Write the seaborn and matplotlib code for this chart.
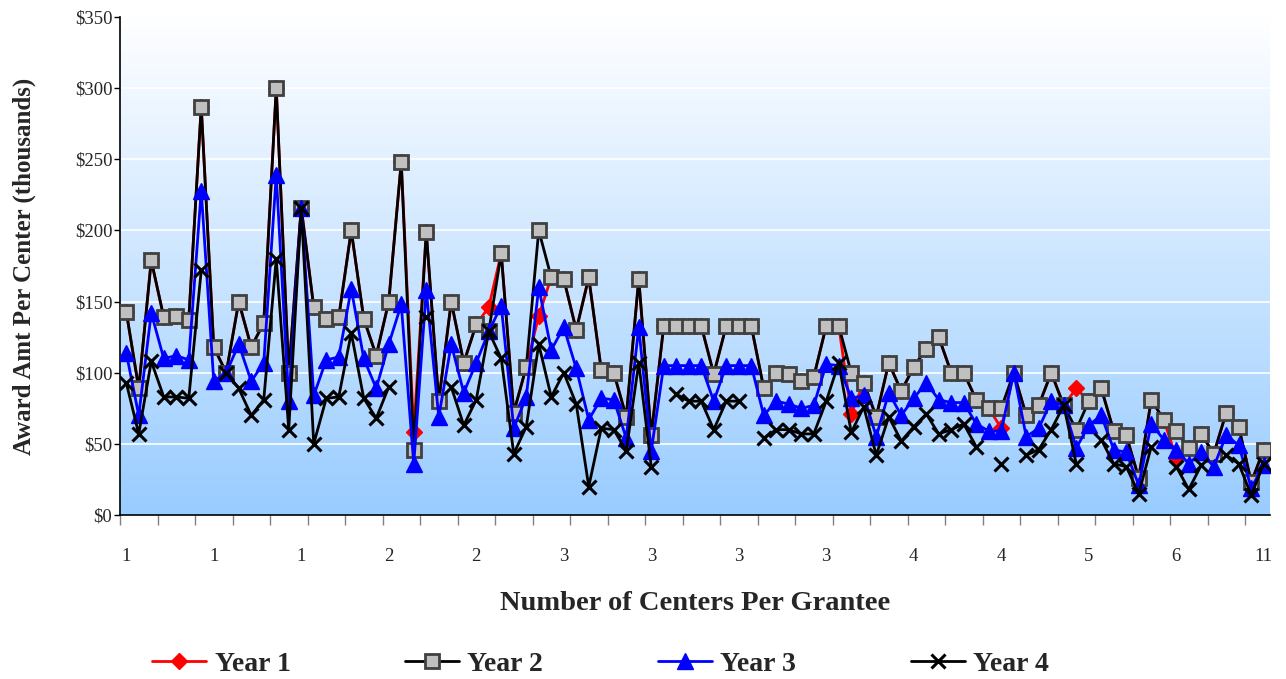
import numpy as np
import pandas as pd
import matplotlib
matplotlib.use("Agg")
import matplotlib.pyplot as plt
from matplotlib.ticker import FuncFormatter, FixedLocator
from matplotlib.lines import Line2D
import seaborn as sns

nan = np.nan

year2 = [143, 89, 179, 139, 140, 137, 287, 118, 100, 150,
         118, 135, 300, 100, 216, 146, 138, 139, 200, 138,
         112, 150, 248, 46, 199, 80, 150, 107, 134, 129,
         184, 72, 104, 200, 167, 166, 130, 167, 102, 100,
         69, 166, 56, 133, 133, 133, 133, 99, 133, 133,
         133, 89, 100, 99, 94, 97, 133, 133, 100, 93,
         69, 107, 87, 104, 117, 125, 100, 100, 81, 75,
         75, 100, 70, 77, 100, 77, 60, 80, 89, 59,
         56, 26, 81, 67, 59, 47, 57, 43, 72, 62,
         23, 46]

year3 = [114, 70, 142, 110, 112, 109, 228, 94, 100, 120,
         94, 107, 239, 80, 216, 84, 109, 111, 159, 110,
         89, 120, 148, 36, 158, 69, 120, 86, 107, 129,
         147, 61, 83, 160, 116, 132, 103, 67, 82, 81,
         54, 132, 45, 105, 105, 105, 105, 80, 105, 105,
         105, 70, 80, 78, 75, 77, 106, 105, 82, 84,
         55, 86, 70, 82, 93, 81, 79, 79, 64, 59,
         59, 100, 55, 61, 80, 77, 47, 63, 70, 46,
         44, 21, 64, 53, 46, 36, 44, 34, 56, 49,
         19, 35]

year4 = [93, 57, 108, 83, 83, 82, 172, nan, 100, 89,
         70, 81, 180, 60, 216, 50, 82, 83, 128, 82,
         68, 90, nan, nan, 139, nan, 90, 63, 81, 129,
         110, 43, 62, 120, 83, 100, 78, 20, 61, 60,
         45, 107, 34, nan, 85, 80, 80, 60, 80, 80,
         nan, 54, 60, 60, 57, 57, 80, 107, 58, 76,
         42, 69, 52, 62, 71, 57, 60, 64, 48, nan,
         36, nan, 42, 46, 60, 77, 36, nan, 53, 36,
         34, 15, 48, nan, 34, 18, 35, nan, 42, 36,
         14, 36]

# Year 1 equals Year 2 except where the red series is visible
year1 = list(year2)
year1_diff = {23: 58, 29: 146, 33: 140, 58: 71, 70: 61, 76: 89, 84: 40}
for k, v in year1_diff.items():
    year1[k] = v

tick_labels = ["1", "1", "1", "2", "2", "3", "3", "3", "3", "4", "4", "5", "6", "11"]
series_names = ["Year 1", "Year 2", "Year 3", "Year 4"]

n = len(year2)
idx = np.arange(n)

sns.set_theme(style="white")
plt.rcParams['font.family'] = ['Liberation Serif', 'DejaVu Serif']

fig = plt.figure(figsize=(12.86, 6.79), dpi=100)
ax = fig.add_axes([120/1286, 1 - 515/679, 1150/1286, 498/679])

# gradient background
grad = np.linspace(0, 1, 256).reshape(-1, 1)
top = np.array([1.0, 1.0, 1.0])
bot = np.array([0.60, 0.80, 1.0])
img = top[None, None, :] * (1 - grad[:, :, None]) + bot[None, None, :] * grad[:, :, None]
ax.imshow(img, extent=[-0.5, n - 0.5, 0, 350], aspect='auto', origin='upper', zorder=0)

for yv in range(50, 351, 50):
    ax.axhline(yv, color='white', lw=1.2, zorder=1)

values = {"Year 1": year1, "Year 2": year2, "Year 3": year3, "Year 4": year4}

styles = {
    "Year 1": dict(color="#FF0000", marker="D", markersize=8, markerfacecolor="#FF0000",
                   markeredgecolor="#FF0000", markeredgewidth=1, lw=2),
    "Year 2": dict(color="#000000", marker="s", markersize=9.5, markerfacecolor="#C0C0C0",
                   markeredgecolor="#404040", markeredgewidth=2, lw=2),
    "Year 3": dict(color="#0000FF", marker="^", markersize=11, markerfacecolor="#0000FF",
                   markeredgecolor="#0000FF", markeredgewidth=1, lw=2),
    "Year 4": dict(color="#000000", marker="x", markersize=9.5, markerfacecolor="none",
                   markeredgecolor="#000000", markeredgewidth=2.2, lw=2),
}

for i, name in enumerate(series_names):
    st = styles[name]
    d = pd.DataFrame({"idx": idx, "val": values[name]})
    d["seg"] = d["val"].isna().cumsum()
    d = d.dropna()
    sns.lineplot(data=d, x="idx", y="val", units="seg", estimator=None, ax=ax,
                 color=st["color"], lw=st["lw"],
                 marker=st["marker"], markersize=st["markersize"],
                 markerfacecolor=st["markerfacecolor"],
                 markeredgecolor=st["markeredgecolor"],
                 markeredgewidth=st["markeredgewidth"],
                 zorder=3 + i, legend=False)

ax.set_xlim(-0.5, n - 0.5)
ax.set_ylim(0, 350)

ax.set_yticks(range(0, 351, 50))
ax.yaxis.set_major_formatter(FuncFormatter(lambda v, p: f"${int(v)}"))
ax.tick_params(axis='y', which='major', direction='out', length=4, width=1, color='black',
               labelsize=13.5, left=True, pad=1.5)

ax.xaxis.set_major_locator(FixedLocator(list(range(0, n, 7))))
ax.set_xticklabels(tick_labels)
ax.xaxis.set_minor_locator(FixedLocator([-0.5 + 3 * k for k in range(0, 31)]))
ax.tick_params(axis='x', which='major', length=0, labelsize=13.5, pad=24)
ax.tick_params(axis='x', which='minor', direction='out', length=7, width=1, color='#808080', bottom=True)

for s in ["top", "right"]:
    ax.spines[s].set_visible(False)
for s in ["left", "bottom"]:
    ax.spines[s].set_visible(True)
    ax.spines[s].set_color("black")
    ax.spines[s].set_linewidth(1.2)

ax.set_xlabel("Number of Centers Per Grantee", fontsize=20.5, fontweight='bold')
ax.xaxis.set_label_coords(0.5, -0.152)
ax.set_ylabel("Award Amt Per Center (thousands)", fontsize=18, fontweight='bold')
ax.yaxis.set_label_coords(-0.073, 0.5)

handles = []
for name in series_names:
    st = styles[name]
    handles.append(Line2D([0], [0], color=st["color"], lw=st["lw"], marker=st["marker"],
                          markersize=st["markersize"],
                          markerfacecolor=st["markerfacecolor"],
                          markeredgecolor=st["markeredgecolor"],
                          markeredgewidth=st["markeredgewidth"]))
leg = fig.legend(handles, series_names, loc='center',
                 bbox_to_anchor=(0.467, 1 - 664/679), ncol=4, frameon=False,
                 prop={'family': ['Liberation Serif'], 'weight': 'bold', 'size': 20},
                 handlelength=1.95, columnspacing=4.12, handletextpad=0.3)

fig.savefig("out.png", dpi=100)
